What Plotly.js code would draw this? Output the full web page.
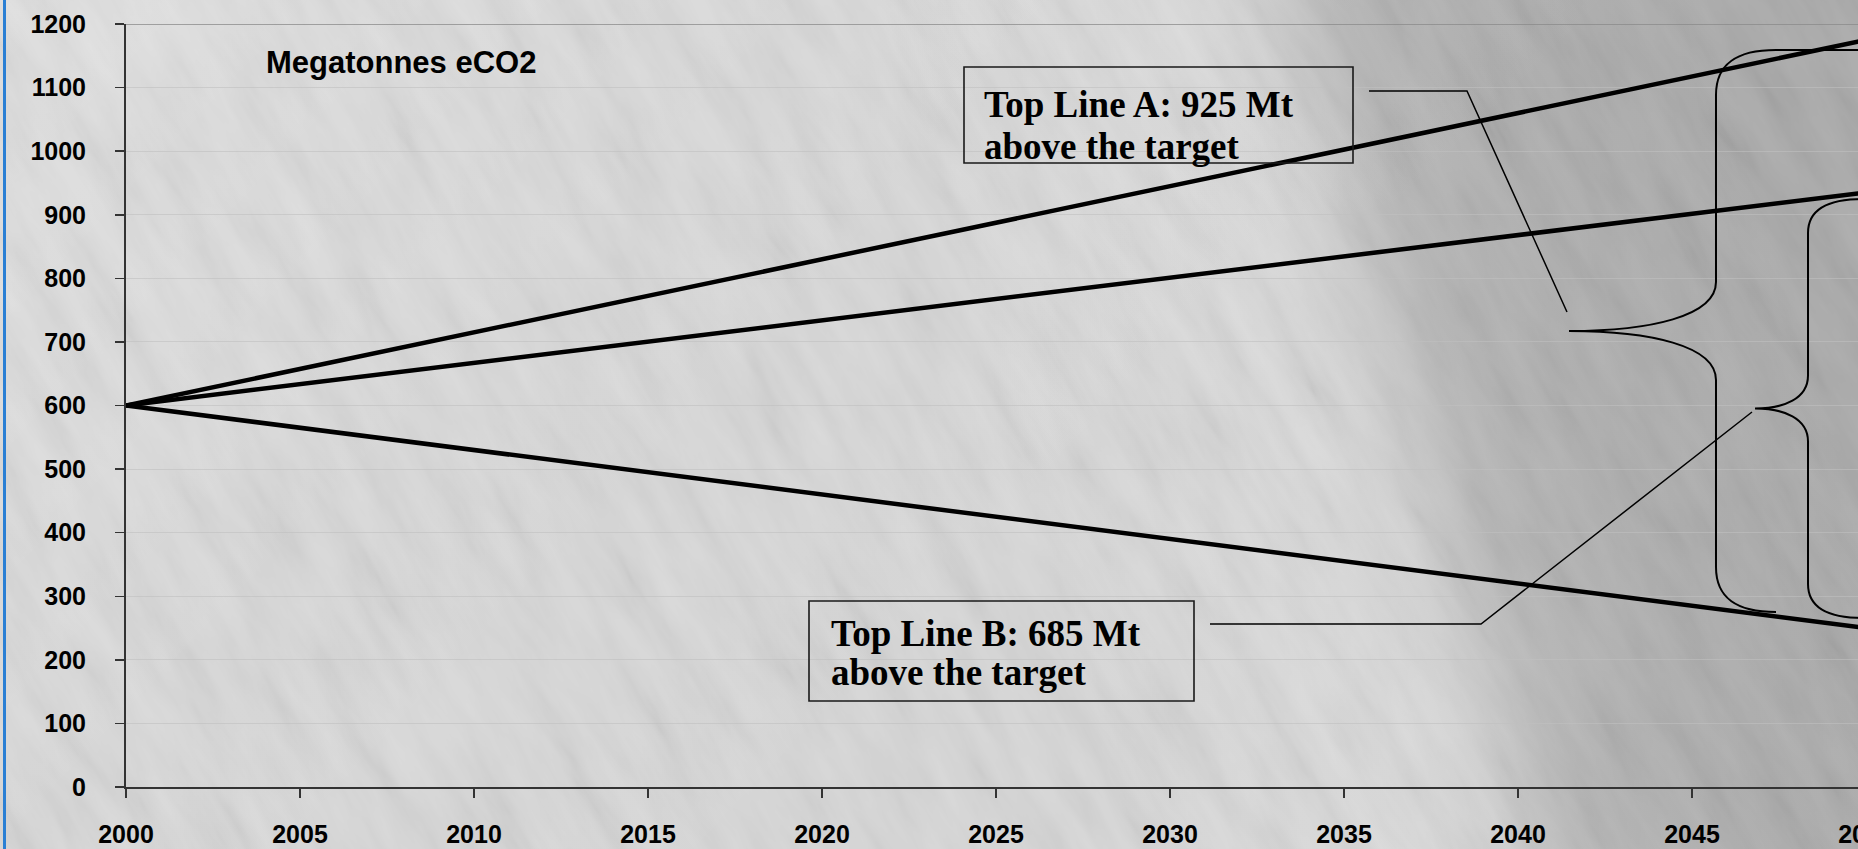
<!DOCTYPE html>
<html>
<head>
<meta charset="utf-8">
<script src="https://cdn.plot.ly/plotly-3.0.1.min.js"></script>
<style>
  html, body { margin: 0; padding: 0; width: 1858px; height: 849px; overflow: hidden; background: #d5d5d5; }
  #backdrop { position: absolute; left: 0; top: 0; width: 1858px; height: 849px; }
  #edge { position: absolute; left: 3px; top: 0; width: 3px; height: 849px; background: #2a7fd4; }
  #chart { position: absolute; left: 0; top: 0; width: 1900px; height: 849px; }
</style>
</head>
<body>
<svg id="backdrop" xmlns="http://www.w3.org/2000/svg" width="1858" height="849">
  <defs>
    <linearGradient id="shade" gradientUnits="userSpaceOnUse" x1="1042" y1="565" x2="1808" y2="335">
      <stop offset="0" stop-color="#d6d6d6"/>
      <stop offset="0.36" stop-color="#d9d9d9"/>
      <stop offset="0.45" stop-color="#d1d1d1"/>
      <stop offset="0.56" stop-color="#b5b5b5"/>
      <stop offset="0.72" stop-color="#adadad"/>
      <stop offset="1" stop-color="#a9a9a9"/>
    </linearGradient>
    <linearGradient id="lift" gradientUnits="userSpaceOnUse" x1="0" y1="0" x2="900" y2="849">
      <stop offset="0" stop-color="#ffffff" stop-opacity="0.22"/>
      <stop offset="0.5" stop-color="#ffffff" stop-opacity="0.05"/>
      <stop offset="1" stop-color="#ffffff" stop-opacity="0"/>
    </linearGradient>
    <filter id="streaks" x="0" y="0" width="1" height="1">
      <feTurbulence type="fractalNoise" baseFrequency="0.008 0.035" numOctaves="4" seed="11"/>
      <feColorMatrix values="1.2 0 0 0 -0.1  1.2 0 0 0 -0.1  1.2 0 0 0 -0.1  0 0 0 0 0.08"/>
    </filter>
  </defs>
  <rect x="0" y="0" width="1858" height="849" fill="url(#shade)"/>
  <rect x="0" y="0" width="1858" height="849" fill="url(#lift)"/>
  <rect x="-200" y="-700" width="2260" height="2260" filter="url(#streaks)" transform="rotate(60 929 424)"/>
</svg>
<div id="edge"></div>
<div id="chart"></div>
<script>
// Emission pathways, Mt eCO2
const years = [2000, 2050];
const topLineA = [600, 1175];
const topLineB = [600, 935];
const target = [600, 250];

const gapA = topLineA[1] - target[1];
const gapB = topLineB[1] - target[1];

const W = 1900, H = 849;
const MARGIN = { l: 126, r: 34, t: 24, b: 62 };
const PW = W - MARGIN.l - MARGIN.r;
const PH = H - MARGIN.t - MARGIN.b;
// page pixel -> paper fraction
const px = x => (x - MARGIN.l) / PW;
const py = y => (H - MARGIN.b - y) / PH;

function pathFromPx(segs) {
  return segs.map(s => s[0] + ' ' + s.slice(1).map(p => px(p[0]).toFixed(5) + ',' + py(p[1]).toFixed(5)).join(' ')).join(' ');
}

// curly brace opening to the right, tip pointing left
function brace(xv, xtip, yTop, yBot, endDx, endDy, midDy, tailTop, tailBot) {
  const ym = (yTop + yBot) / 2;
  const k = xv - (xv - xtip) * 0.45;
  return pathFromPx([
    ['M', [tailTop, yTop]],
    ['L', [xv + endDx, yTop]],
    ['C', [xv + endDx * 0.35, yTop], [xv, yTop + endDy * 0.3], [xv, yTop + endDy]],
    ['L', [xv, ym - midDy]],
    ['C', [xv, ym - midDy * 0.3], [k, ym], [xtip, ym]],
    ['C', [k, ym], [xv, ym + midDy * 0.3], [xv, ym + midDy]],
    ['L', [xv, yBot - endDy]],
    ['C', [xv, yBot - endDy * 0.3], [xv + endDx * 0.35, yBot], [xv + endDx, yBot]],
    ['L', [tailBot, yBot]]
  ]);
}

function lineTrace(y) {
  return { x: years, y: y, type: 'scatter', mode: 'lines',
           line: { color: '#000', width: 4.5 }, hoverinfo: 'skip', showlegend: false };
}

const data = [lineTrace(topLineA), lineTrace(topLineB), lineTrace(target)];

const tickFont = { family: 'Liberation Sans, Arial, sans-serif', size: 25, weight: 'bold', color: '#000' };
const serif = { family: 'Liberation Serif, Times New Roman, serif', size: 37, weight: 'bold', color: '#000' };

function label(text, x, yMid, font) {
  return { text: text, xref: 'paper', yref: 'paper', x: px(x), y: py(yMid),
           xanchor: 'left', yanchor: 'middle', showarrow: false, font: font, borderpad: 0 };
}

const thin = { color: '#000', width: 1.5 };
const boxLine = { color: '#1a1a1a', width: 1.6 };

const layout = {
  width: W, height: H,
  margin: MARGIN,
  paper_bgcolor: 'rgba(0,0,0,0)',
  plot_bgcolor: 'rgba(0,0,0,0)',
  showlegend: false,
  xaxis: {
    range: [2000, 2050], dtick: 5, tick0: 2000,
    showgrid: false, zeroline: false,
    showline: true, linecolor: '#333', linewidth: 2,
    ticks: 'outside', ticklen: 9, tickwidth: 1.5, tickcolor: '#333',
    tickfont: tickFont, ticklabelstandoff: 15
  },
  yaxis: {
    range: [0, 1200], dtick: 100, tick0: 0,
    showgrid: true, gridcolor: 'rgba(192,192,192,0.6)', gridwidth: 1,
    zeroline: false,
    showline: true, linecolor: '#333', linewidth: 2,
    ticks: 'outside', ticklen: 9, tickwidth: 1.5, tickcolor: '#333',
    tickfont: tickFont, ticklabelstandoff: 24
  },
  shapes: [
    // plot area top edge
    { type: 'line', xref: 'paper', yref: 'y', x0: 0, x1: 1, y0: 1200, y1: 1200, line: { color: '#8a8a8a', width: 1.5 } },
    // callout boxes
    { type: 'rect', xref: 'paper', yref: 'paper', x0: px(964), x1: px(1353), y0: py(67), y1: py(163), line: boxLine },
    { type: 'rect', xref: 'paper', yref: 'paper', x0: px(809), x1: px(1194), y0: py(601), y1: py(701), line: boxLine },
    // leader lines
    { type: 'path', xref: 'paper', yref: 'paper', path: pathFromPx([['M', [1369, 91]], ['L', [1467, 91]], ['L', [1567, 312]]]), line: thin },
    { type: 'path', xref: 'paper', yref: 'paper', path: pathFromPx([['M', [1210, 624]], ['L', [1481, 624]], ['L', [1752, 412]]]), line: thin },
    // braces
    { type: 'path', xref: 'paper', yref: 'paper', path: brace(1716, 1569, 50, 612, 60, 45, 49, 1880, 1776), line: { color: '#000', width: 2 } },
    { type: 'path', xref: 'paper', yref: 'paper', path: brace(1808, 1755, 199, 618, 55, 34, 33, 1890, 1890), line: { color: '#000', width: 2 } }
  ],
  annotations: [
    label('Megatonnes eCO2', 265, 62.6, { family: 'Liberation Sans, Arial, sans-serif', size: 31, weight: 'bold', color: '#000' }),
    label('Top Line A: ' + gapA + ' Mt', 983, 104, serif),
    label('above the target', 983, 146.5, serif),
    label('Top Line B: ' + gapB + ' Mt', 830, 633.5, serif),
    label('above the target', 830, 672.5, serif)
  ]
};

Plotly.newPlot('chart', data, layout, { displayModeBar: false, staticPlot: true });
</script>
</body>
</html>
